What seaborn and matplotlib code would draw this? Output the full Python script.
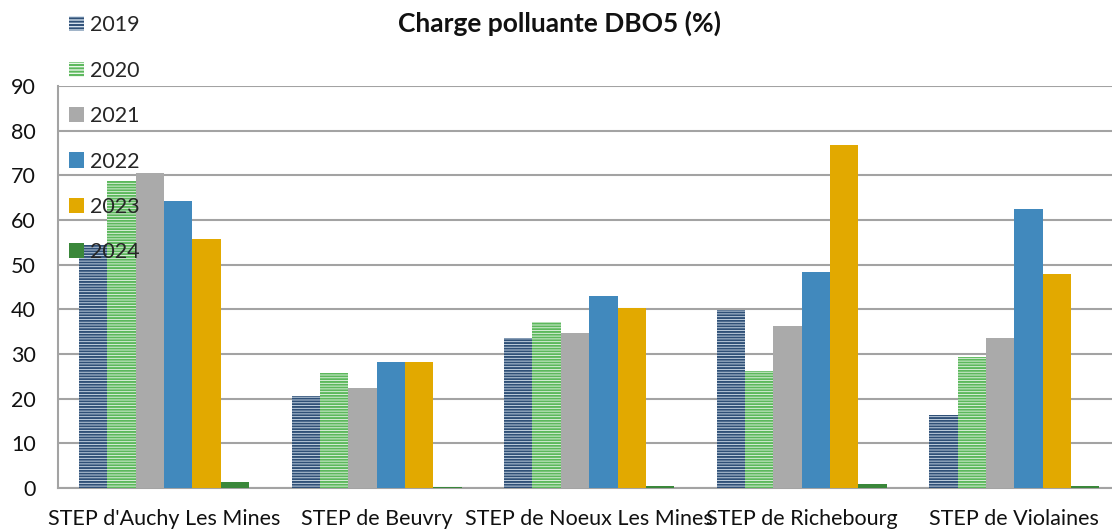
import numpy as np
import pandas as pd
import matplotlib
matplotlib.use("Agg")
import matplotlib.pyplot as plt
from matplotlib.patches import Patch
import seaborn as sns

stations = ["STEP d'Auchy Les Mines", "STEP de Beuvry", "STEP de Noeux Les Mines",
            "STEP de Richebourg", "STEP de Violaines"]
years = ["2019", "2020", "2021", "2022", "2023", "2024"]
v2019 = [54.4, 20.6, 33.5, 39.8, 16.3]
v2020 = [68.8, 25.7, 37.2, 26.2, 29.3]
v2021 = [70.6, 22.4, 34.8, 36.3, 33.5]
v2022 = [64.2, 28.3, 42.9, 48.3, 62.4]
v2023 = [55.7, 28.1, 40.4, 76.8, 47.9]
v2024 = [1.4, 0.3, 0.4, 0.8, 0.4]
yticks = list(range(0, 100, 10))

series = [v2019, v2020, v2021, v2022, v2023, v2024]
df = pd.DataFrame({
    "station": np.repeat([stations], len(years), axis=0).ravel(),
    "year": np.repeat(years, len(stations)),
    "value": np.concatenate(series),
})

# face colour, hatch colour, hatch pattern per year
styles = {
    "2019": ("#d6e2ee", "#2f5077", "------"),
    "2020": ("#eaf6ea", "#5cb85c", "------"),
    "2021": ("#aaaaaa", None, None),
    "2022": ("#4189bd", None, None),
    "2023": ("#e2a900", None, None),
    "2024": ("#3a873a", None, None),
}

sns.set_theme(style="white")
plt.rcParams["font.family"] = ["Lato", "DejaVu Sans"]
plt.rcParams["hatch.linewidth"] = 1.4

fig = plt.figure(figsize=(11.12, 5.29), dpi=100)
ax = fig.add_axes([0.052, 0.0775, 0.948, 0.7599])

palette = {y: styles[y][0] for y in years}
sns.barplot(data=df, x="station", y="value", hue="year", order=stations,
            hue_order=years, palette=palette, width=0.8, saturation=1,
            legend=False, ax=ax, zorder=3)

for cont, y in zip(ax.containers, years):
    face, hcol, hatch = styles[y]
    for bar in cont:
        bar.set_facecolor(face)
        bar.set_linewidth(0)
        if hatch:
            bar.set_hatch(hatch)
            bar.set_edgecolor(hcol)
        else:
            bar.set_edgecolor(face)

ax.set_ylim(0, 90)
ax.set_xlim(-0.5, 4.46)
ax.set_yticks(yticks)
ax.yaxis.grid(True, color="#a3a3a3", linewidth=1.5, zorder=0)
ax.set_axisbelow(True)
for s in ["top", "right"]:
    ax.spines[s].set_visible(False)
for s in ["bottom", "left"]:
    ax.spines[s].set_color("#a3a3a3")
    ax.spines[s].set_linewidth(1.5)
ax.set_xlabel("")
ax.set_ylabel("")
ax.tick_params(axis="x", length=0, pad=15, labelsize=15.5, colors="#111111")
ax.tick_params(axis="y", length=5, width=1.5, color="#a3a3a3", direction="out",
               pad=11, labelsize=15.5, labelcolor="#111111")

fig.text(0.503, 0.955, "Charge polluante DBO5 (%)", ha="center", va="center",
         fontsize=19, fontweight="bold", color="#111111")

handles = []
for y in years:
    face, hcol, hatch = styles[y]
    if hatch:
        handles.append(Patch(facecolor=face, edgecolor=hcol, hatch="-----", linewidth=0))
    else:
        handles.append(Patch(facecolor=face, edgecolor=face, linewidth=0))
fig.legend(handles, years, loc="upper left", bbox_to_anchor=(0.062, 0.971),
           frameon=False, fontsize=15.5, labelspacing=1.18, handlelength=0.7,
           handleheight=0.7, handletextpad=0.3, borderpad=0, borderaxespad=0)

fig.savefig("out.png", dpi=100)
